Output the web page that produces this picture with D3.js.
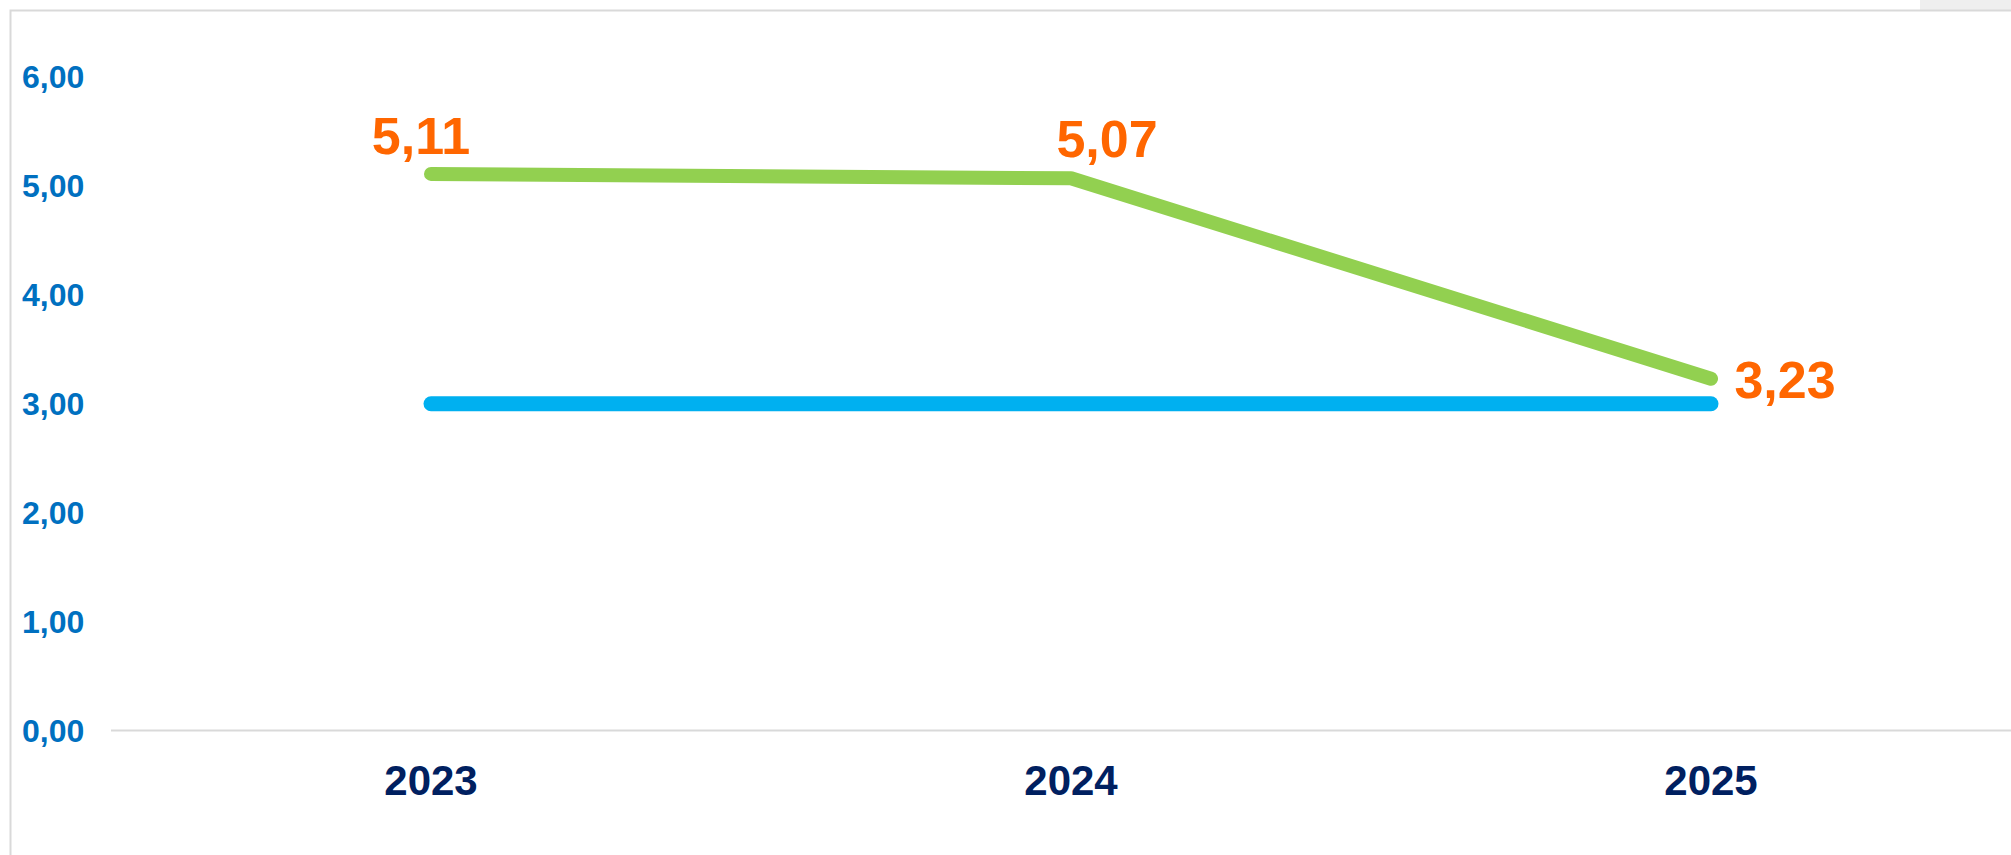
<!DOCTYPE html>
<html>
<head>
<meta charset="utf-8">
<script src="https://cdn.jsdelivr.net/npm/d3@7"></script>
<style>
  body { margin: 0; background: #fff; }
  svg { display: block; font-family: "Liberation Sans", Arial, sans-serif; }
</style>
</head>
<body>
<script>
// chart values
var years = ["2023", "2024", "2025"];
var actual = [5.11, 5.07, 3.23];
var target = [3.00, 3.00, 3.00];
var yTicks = [0, 1, 2, 3, 4, 5, 6];

var width = 2011, height = 855;

var svg = d3.select("body")
  .append("svg")
    .attr("width", width)
    .attr("height", height);

// frame of the chart area
svg.append("rect")
  .attr("x", 1920).attr("y", 0)
  .attr("width", 91).attr("height", 10)
  .attr("fill", "#efefef");
svg.append("path")
  .attr("d", "M10.5," + height + "V10.5H" + width)
  .attr("fill", "none")
  .attr("stroke", "#d9d9d9")
  .attr("stroke-width", 2);

// plot runs past the right edge of the picture
var x = d3.scaleBand()
  .domain(years)
  .range([111, 2031]);

var y = d3.scaleLinear()
  .domain([0, 6])
  .range([730.5, 77]);

var cx = function(d, i) { return x(years[i]) + x.bandwidth() / 2; };
var fmt = function(d) { return d3.format(".2f")(d).replace(".", ","); };

// x axis baseline
svg.append("line")
  .attr("x1", 111).attr("x2", width)
  .attr("y1", y(0)).attr("y2", y(0))
  .attr("stroke", "#d9d9d9")
  .attr("stroke-width", 2);

// y tick labels
svg.append("g").selectAll("text")
  .data(yTicks)
  .enter()
  .append("text")
    .attr("x", 22)
    .attr("y", function(d) { return y(d) + 11; })
    .attr("fill", "#0070c0")
    .attr("font-size", 32)
    .attr("font-weight", "bold")
    .text(fmt);

// x category labels
svg.append("g").selectAll("text")
  .data(years)
  .enter()
  .append("text")
    .attr("x", function(d) { return x(d) + x.bandwidth() / 2; })
    .attr("y", 795)
    .attr("text-anchor", "middle")
    .attr("fill", "#002060")
    .attr("font-size", 42)
    .attr("font-weight", "bold")
    .text(function(d) { return d; });

var line = d3.line()
  .x(cx)
  .y(function(d) { return y(d); });

svg.append("path")
  .datum(target)
  .attr("d", line)
  .attr("fill", "none")
  .attr("stroke", "#00b0f0")
  .attr("stroke-width", 15)
  .attr("stroke-linecap", "round")
  .attr("stroke-linejoin", "round");

svg.append("path")
  .datum(actual)
  .attr("d", line)
  .attr("fill", "none")
  .attr("stroke", "#92d050")
  .attr("stroke-width", 14)
  .attr("stroke-linecap", "round")
  .attr("stroke-linejoin", "round");

// data labels, nudged like the original
var labelShift = [[-10, -20], [36, -21], [74, 19]];
svg.append("g").selectAll("text")
  .data(actual)
  .enter()
  .append("text")
    .attr("x", function(d, i) { return cx(d, i) + labelShift[i][0]; })
    .attr("y", function(d, i) { return y(d) + labelShift[i][1]; })
    .attr("text-anchor", "middle")
    .attr("fill", "#ff6600")
    .attr("font-size", 52)
    .attr("font-weight", "bold")
    .text(fmt);
</script>
</body>
</html>
